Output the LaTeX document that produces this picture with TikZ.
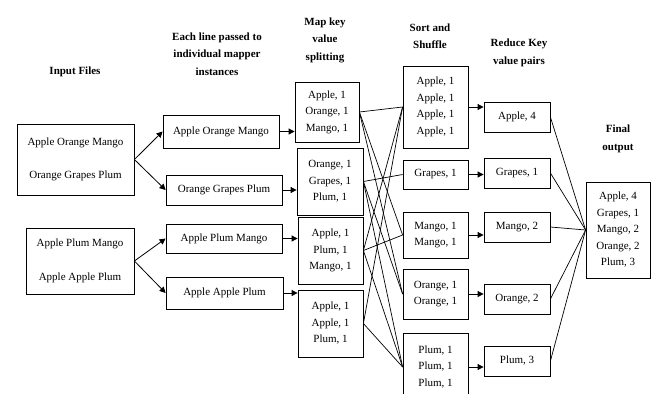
\documentclass[tikz,border=0pt]{standalone}
\usepackage{fontspec}
\setmainfont{Liberation Serif}
\usetikzlibrary{arrows.meta}

\begin{document}
\begin{tikzpicture}
[every node/.style={inner sep=0pt, align=center, font=\fontsize{11}{16.5}\selectfont},
 box/.style={draw=black, line width=0.8pt},
 head/.style={font=\fontsize{11}{17.5}\selectfont\bfseries},
 arr/.style={line width=0.8pt, -{Triangle[length=6pt, width=6pt]}},
 link/.style={line width=0.7pt}]
\useasboundingbox (0pt,0pt) rectangle (654pt,-394pt);
% headings
\node (hin) [head] at (75.0pt, -72.0pt) {Input Files};
\node (hmap) [head] at (217.0pt, -54.0pt) {Each line passed to\\individual mapper\\instances};
\node (hsplit) [head] at (325.0pt, -40.0pt) {Map key\\value\\splitting};
\node (hsort) [head] at (430.0pt, -36.0pt) {Sort and\\Shuffle};
\node (hred) [head] at (519.0pt, -53.0pt) {Reduce Key\\value pairs};
\node (hfin) [head] at (618.0pt, -139.0pt) {Final\\output};
% input files
\node (in1) [box, minimum width=117pt, minimum height=71pt] at (75.5pt, -159.5pt) {Apple Orange Mango\\[17pt]Orange Grapes Plum};
\node (in2) [box, minimum width=108pt, minimum height=66pt] at (80.0pt, -261.0pt) {Apple Plum Mango\\[18pt]Apple Apple Plum};
% mapper instances
\node (m1) [box, minimum width=116pt, minimum height=33pt] at (221.0pt, -131.5pt) {Apple Orange Mango};
\node (m2) [box, minimum width=116pt, minimum height=30pt] at (224.0pt, -190.0pt) {Orange Grapes Plum};
\node (m3) [box, minimum width=116pt, minimum height=29pt] at (224.0pt, -238.5pt) {Apple Plum Mango};
\node (m4) [box, minimum width=117pt, minimum height=32pt] at (224.5pt, -293.0pt) {Apple Apple Plum};
% key value splitting
\node (k1) [box, minimum width=64pt, minimum height=60pt] at (327.0pt, -112.0pt) {Apple, 1\\Orange, 1\\Mango, 1};
\node (k2) [box, minimum width=66pt, minimum height=67pt] at (330.0pt, -181.5pt) {Orange, 1\\Grapes, 1\\Plum, 1};
\node (k3) [box, minimum width=65pt, minimum height=67pt] at (330.5pt, -250.5pt) {Apple, 1\\Plum, 1\\Mango, 1};
\node (k4) [box, minimum width=65pt, minimum height=67pt] at (330.5pt, -323.5pt) {Apple, 1\\Apple, 1\\Plum, 1};
% sort and shuffle
\node (s1) [box, minimum width=65pt, minimum height=82pt] at (435.5pt, -107.0pt) {Apple, 1\\Apple, 1\\Apple, 1\\Apple, 1};
\node (s2) [box, minimum width=65pt, minimum height=29pt] at (435.5pt, -174.5pt) {Grapes, 1};
\node (s3) [box, minimum width=65pt, minimum height=46pt] at (435.5pt, -235.0pt) {Mango, 1\\Mango, 1};
\node (s4) [box, minimum width=65pt, minimum height=50pt] at (435.5pt, -294.0pt) {Orange, 1\\Orange, 1};
\node (s5) [box, minimum width=65pt, minimum height=68pt] at (435.5pt, -367.0pt) {Plum, 1\\Plum, 1\\Plum, 1};
% reduce
\node (r1) [box, minimum width=66pt, minimum height=30pt] at (517.0pt, -117.0pt) {Apple, 4};
\node (r2) [box, minimum width=66pt, minimum height=30pt] at (517.0pt, -173.0pt) {Grapes, 1};
\node (r3) [box, minimum width=66pt, minimum height=30pt] at (517.0pt, -227.0pt) {Mango, 2};
\node (r4) [box, minimum width=66pt, minimum height=30pt] at (517.0pt, -299.0pt) {Orange, 2};
\node (r5) [box, minimum width=66pt, minimum height=30pt] at (517.0pt, -361.0pt) {Plum, 3};
% final output
\node (fin) [box, minimum width=64pt, minimum height=96pt] at (618.0pt, -230.0pt) {Apple, 4\\Grapes, 1\\Mango, 2\\Orange, 2\\Plum, 3};
% input -> mapper
\draw [arr] (in1.east) to (m1.west);
\draw [arr] (in1.east) to (m2.west);
\draw [arr] (in2.east) to (m3.west);
\draw [arr] (in2.east) to (m4.west);
% mapper -> splitting
\draw [arr] (m1.east) to (m1.east -| k1.west);
\draw [arr] (m2.east) to (m2.east -| k2.west);
\draw [arr] (m3.east) to (m3.east -| k3.west);
\draw [arr] (m4.east) to (m4.east -| k4.west);
% splitting -> shuffle
\draw [link] (k1.east) to (s1.west);
\draw [link] (k1.east) to (s4.west);
\draw [link] (k1.east) to (s3.west);
\draw [link] (k2.east) to (s4.west);
\draw [link] (k2.east) to (s2.west);
\draw [link] (k2.east) to (s5.west);
\draw [link] (k3.east) to (s1.west);
\draw [link] (k3.east) to (s5.west);
\draw [link] (k3.east) to (s3.west);
\draw [link] (k4.east) to (s1.west);
\draw [link] (k4.east) to (s5.west);
% shuffle -> reduce
\draw [arr] (s1.east) to (s1.east -| r1.west);
\draw [arr] (s2.east) to (s2.east -| r2.west);
\draw [arr] (s3.east) to (s3.east -| r3.west);
\draw [arr] (s4.east) to (s4.east -| r4.west);
\draw [arr] (s5.east) to (s5.east -| r5.west);
% reduce -> output
\draw [link] (r1.east) to (fin.west);
\draw [link] (r2.east) to (fin.west);
\draw [link] (r3.east) to (fin.west);
\draw [link] (r4.east) to (fin.west);
\draw [link] (r5.east) to (fin.west);
\end{tikzpicture}
\end{document}
